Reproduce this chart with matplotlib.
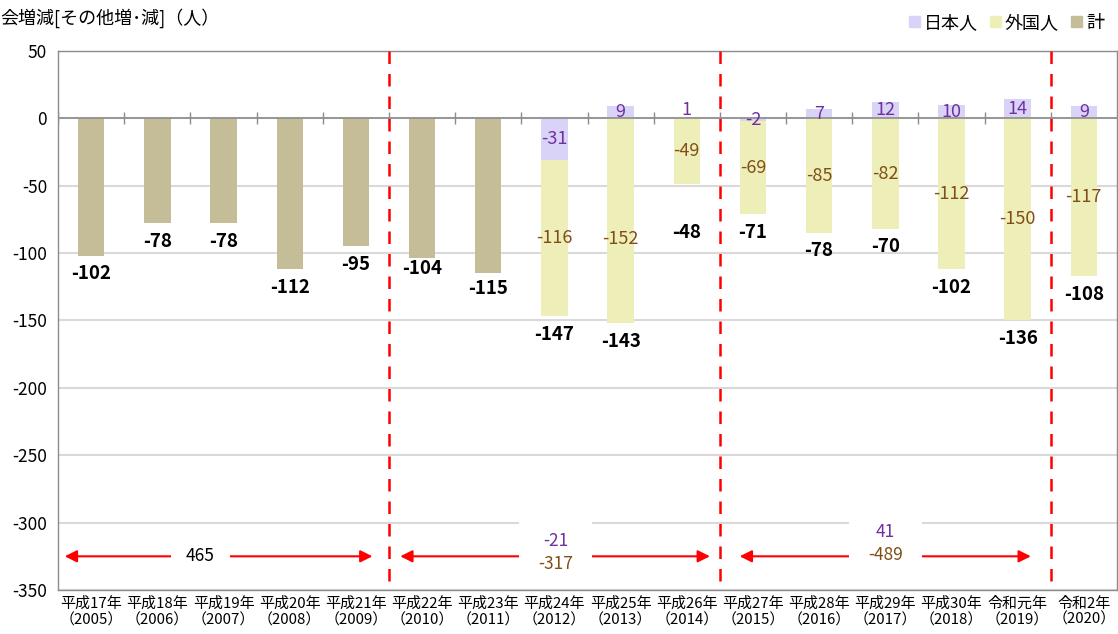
import matplotlib.pyplot as plt
from matplotlib.patches import Patch, Rectangle

plt.rcParams['font.family'] = ['Noto Sans CJK JP', 'DejaVu Sans']

# 年次ラベル
years = ["平成17年\n（2005）", "平成18年\n（2006）", "平成19年\n（2007）", "平成20年\n（2008）",
         "平成21年\n（2009）", "平成22年\n（2010）", "平成23年\n（2011）", "平成24年\n（2012）",
         "平成25年\n（2013）", "平成26年\n（2014）", "平成27年\n（2015）", "平成28年\n（2016）",
         "平成29年\n（2017）", "平成30年\n（2018）", "令和元年\n（2019）", "令和2年\n（2020）"]

# 計（内訳のない年は計のみ）
total = [-102, -78, -78, -112, -95, -104, -115, -147, -143, -48, -71, -78, -70, -102, -136, -108]
japanese = [None, None, None, None, None, None, None, -31, 9, 1, -2, 7, 12, 10, 14, 9]
foreign = [None, None, None, None, None, None, None, -116, -152, -49, -69, -85, -82, -112, -150, -117]

# 期間ごとの合計（日本人, 外国人/計）
periods = [(-0.5, 4.5), (4.5, 9.5), (9.5, 14.5)]
period_jp = [None, "-21", "41"]
period_main = ["465", "-317", "-489"]
boundaries = [4.5, 9.5, 14.5]

# 矢印の端・ラベル位置（期間の始まりからの距離）
arrow_in = [(0.1, 0.25), (0.17, 0.15), (0.3, 0.3)]
label_at = [2.15, 2.52, 2.5]
label_dy = [0, 0, 7]

# ラベル位置の微調整（pt）
total_shift = [0, 0, 0, 0, 0, 6, 2, 0, 0, -22, 0, 0, 0, 0, 0, 0]
foreign_shift = [0, 0, 0, 0, 0, 0, 0, 0, -13, 0, 0, 0, 0, 0, 0, 0]

c_total = '#C4BD97'
c_jp = '#D9D3F7'
c_fr = '#EEEEB8'
c_jp_txt = '#7030A0'
c_fr_txt = '#7F4F17'

fig = plt.figure(figsize=(11.18, 6.34), dpi=100)
ax = fig.add_axes([0.052, 0.0694, 0.947, 0.8502])

x = list(range(len(years)))
w = 0.4
for i in x:
    if japanese[i] is None:
        ax.bar(i, total[i], width=w, color=c_total, zorder=3)
        bottom_end = total[i]
    else:
        jp = japanese[i]
        ax.bar(i, jp, width=w, color=c_jp, zorder=3)
        base = min(jp, 0)
        ax.bar(i, foreign[i], bottom=base, width=w, color=c_fr, zorder=3)
        bottom_end = base + foreign[i]
        # 日本人
        jy = jp / 2 if abs(jp) >= 2 else jp + 5
        ax.text(i, jy, str(jp), ha='center', va='center', fontsize=13,
                color=c_jp_txt, zorder=5)
        # 外国人
        ax.annotate(str(foreign[i]), (i, base + foreign[i] / 2),
                    xytext=(0, foreign_shift[i]), textcoords='offset points',
                    ha='center', va='center', fontsize=13, color=c_fr_txt, zorder=5)
    ax.annotate(str(total[i]), (i, bottom_end), xytext=(0, -13 + total_shift[i]),
                textcoords='offset points', ha='center', va='center',
                fontsize=13.5, fontweight='bold', color='black', zorder=5)

ax.set_xlim(-0.5, len(years) - 0.5)
ax.set_ylim(-350, 50)
ax.set_yticks(range(-350, 51, 50))
ax.yaxis.grid(True, color='#D9D9D9', linewidth=1.5, zorder=0)
ax.set_axisbelow(True)
ax.tick_params(axis='y', length=0, pad=8, labelsize=12.5)
ax.set_yticklabels([str(v) for v in range(-350, 51, 50)])
ax.set_xticks(x)
ax.set_xticklabels(years, fontsize=10.8, linespacing=1.15)
ax.tick_params(axis='x', length=0, pad=5)
for s in ax.spines.values():
    s.set_color('#8C8C8C')
    s.set_linewidth(1)

# 0 の軸線と目盛り
ax.axhline(0, color='#8C8C8C', linewidth=1.2, zorder=4)
ax.plot([b + 0.5 for b in range(-1, len(years) - 1)], [0] * len(years), ls='none',
        marker='|', markersize=9, color='#8C8C8C', zorder=4)

# 期間の区切り
for b in boundaries:
    ax.plot([b, b], [50, -345], color='#FF0000', linewidth=1.8,
            dashes=(5, 4), zorder=6)

# 期間の矢印と合計
arrow_y = -325
for k, (a, b) in enumerate(periods):
    left, right = a + arrow_in[k][0], b - arrow_in[k][1]
    ax.annotate('', xy=(left, arrow_y), xytext=(right, arrow_y),
                arrowprops=dict(arrowstyle='<|-|>', color='#FF0000', lw=1.5,
                                mutation_scale=18, shrinkA=0, shrinkB=0), zorder=6)
    cx = a + label_at[k]
    ty = arrow_y + label_dy[k]
    if period_jp[k] is None:
        ax.text(cx, ty, period_main[k], ha='center', va='center',
                fontsize=12.5, color='black', zorder=8,
                bbox=dict(facecolor='white', edgecolor='none', pad=11))
    else:
        ax.add_patch(Rectangle((cx - 0.55, ty - 17), 1.1, 45, facecolor='white',
                               edgecolor='none', zorder=7))
        ax.text(cx, ty + 11, period_jp[k], ha='center', va='center',
                fontsize=12.5, color=c_jp_txt, zorder=8)
        ax.text(cx, ty - 6, period_main[k], ha='center', va='center',
                fontsize=12.5, color=c_fr_txt, zorder=8)

# タイトル
fig.text(0.0, 0.972, "会増減[その他増･減]（人）", fontsize=13, va='center', ha='left')

handles = [Patch(color=c_jp, label='日本人'), Patch(color=c_fr, label='外国人'),
           Patch(color=c_total, label='計')]
fig.legend(handles=handles, loc='upper right', bbox_to_anchor=(0.997, 0.995), ncol=3,
           frameon=False, fontsize=13, handlelength=0.6, handleheight=0.6,
           handletextpad=0.2, columnspacing=0.7, borderaxespad=0.2)

fig.savefig('out.png', dpi=100)
